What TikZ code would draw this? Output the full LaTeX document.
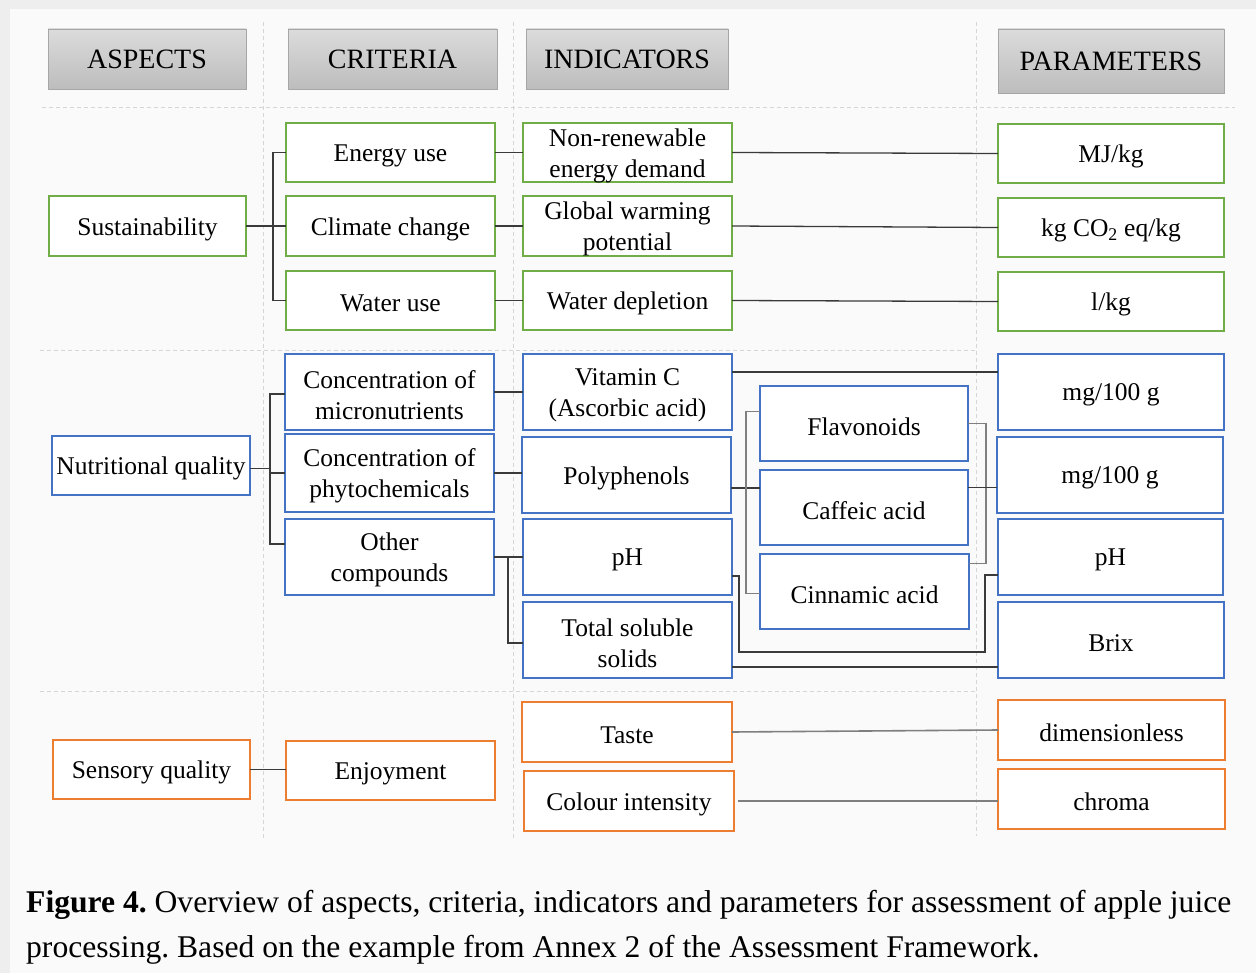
\documentclass[tikz,border=0pt]{standalone}
\usepackage{fontspec}
\setmainfont{Liberation Serif}
\frenchspacing
\definecolor{cgreen}{HTML}{70AD47}
\definecolor{cblue}{HTML}{4472C4}
\definecolor{corange}{HTML}{ED7D31}
\definecolor{cline}{HTML}{3A3A3A}
\definecolor{cgline}{HTML}{7F7F7F}
\definecolor{cguide}{HTML}{D6D6D6}
\definecolor{cbg}{HTML}{FAFAFA}
\definecolor{cframe}{HTML}{EEEEEE}
\tikzset{
  boxbase/.style={draw, line width=2pt, fill=white, inner sep=0pt, outer sep=0pt},
  boxlab/.style={align=center, inner sep=0pt, text=black, font=\fontsize{25.5}{31}\selectfont, yshift=-3pt},
  gbox/.style={boxbase, draw=cgreen},
  bbox/.style={boxbase, draw=cblue},
  obox/.style={boxbase, draw=corange},
  hbox/.style={draw=black!35, line width=0.8pt, top color=black!14, bottom color=black!26, align=center, inner sep=0pt, font=\fontsize{28}{32}\selectfont},
  conn/.style={draw=cline, line width=1.3pt},
  gconn/.style={draw=cgline, line width=1.6pt},
  guide/.style={draw=cguide, line width=0.9pt, dash pattern=on 4pt off 3pt},
  captext/.style={anchor=base west, inner sep=0pt, font=\fontsize{31.6}{45}\selectfont},
}
\newcommand\bx[7]{\node[#6, minimum width={(#4-#2)*1pt}, minimum height={(#5-#3)*1pt}, label={[boxlab]center:{#7}}] (#1) at ({(#2+#4)/2},{(#3+#5)/2}) {};}
\newcommand\hx[6]{\node[hbox, minimum width={(#4-#2)*1pt}, minimum height={(#5-#3)*1pt}] (#1) at ({(#2+#4)/2},{(#3+#5)/2}) {#6};}
\begin{document}
\begin{tikzpicture}[x=1pt,y=-1pt]
\useasboundingbox (0,0) rectangle (1256,973);
\fill[cframe] (0,0) rectangle (1256,973);
\fill[cbg] (10,9) rectangle (1256,973);
% guides
\draw[guide] (42,107) -- (1235,107);
\draw[guide] (40,350) -- (975,350);
\draw[guide] (40,691) -- (975,691);
\draw[guide] (263,22) -- (263,840);
\draw[guide] (513,22) -- (513,840);
\draw[guide] (976,22) -- (976,836);
% headers
\hx{hA}{48}{29}{246}{89}{ASPECTS}
\hx{hC}{288}{29}{497}{89}{CRITERIA}
\hx{hI}{526}{29}{728}{89}{INDICATORS}
\hx{hP}{998}{29}{1224}{93}{PARAMETERS}
% sustainability
\bx{sust}{49}{196}{246}{256}{gbox}{Sustainability}
\bx{energy}{286}{123}{495}{182}{gbox}{Energy use}
\bx{climate}{286}{196}{495}{256}{gbox}{Climate change}
\bx{water}{286}{271}{495}{330}{gbox}{Water use}
\bx{nred}{523}{123}{732}{182}{gbox}{Non-renewable\\energy demand}
\bx{gwp}{523}{196}{732}{256}{gbox}{Global warming\\potential}
\bx{wdep}{523}{271}{732}{330}{gbox}{Water depletion}
\bx{mj}{998}{124}{1224}{183}{gbox}{MJ/kg}
\bx{kgco}{998}{198}{1224}{257}{gbox}{kg CO\textsubscript{2} eq/kg}
\bx{lkg}{998}{272}{1224}{331}{gbox}{l/kg}
% nutritional
\bx{nq}{52}{436}{250}{495}{bbox}{Nutritional quality}
\bx{micro}{285}{354}{494}{430}{bbox}{Concentration of\\micronutrients}
\bx{phyto}{285}{434}{494}{512}{bbox}{Concentration of\\phytochemicals}
\bx{other}{285}{519}{494}{595}{bbox}{Other\\compounds}
\bx{vitc}{523}{354}{732}{430}{bbox}{Vitamin C\\(Ascorbic acid)}
\bx{poly}{522}{437}{731}{513}{bbox}{Polyphenols}
\bx{ph}{523}{519}{732}{595}{bbox}{pH}
\bx{tss}{523}{602}{732}{678}{bbox}{Total soluble\\solids}
\bx{flav}{760}{386}{968}{461}{bbox}{Flavonoids}
\bx{caff}{760}{470}{968}{545}{bbox}{Caffeic acid}
\bx{cinn}{760}{554}{969}{629}{bbox}{Cinnamic acid}
\bx{mga}{998}{354}{1224}{430}{bbox}{mg/100 g}
\bx{mgb}{997}{437}{1223}{513}{bbox}{mg/100 g}
\bx{php}{998}{519}{1223}{595}{bbox}{pH}
\bx{brix}{998}{602}{1224}{678}{bbox}{Brix}
% sensory
\bx{sq}{53}{740}{250}{799}{obox}{Sensory quality}
\bx{enj}{286}{741}{495}{800}{obox}{Enjoyment}
\bx{taste}{522}{702}{732}{762}{obox}{Taste}
\bx{colour}{524}{771}{734}{831}{obox}{Colour intensity}
\bx{dimless}{998}{700}{1225}{760}{obox}{dimensionless}
\bx{chroma}{998}{769}{1225}{829}{obox}{chroma}
% bus coordinates
\coordinate (sb) at (273,0);
\coordinate (nb) at (270,0);
\coordinate (ob) at (508,0);
\coordinate (pb) at (746,0);
\coordinate (rb) at (986,0);
\coordinate (lp1) at (739,652);
\coordinate (lp2) at (985,652);
% sustainability connectors
\draw[conn] (sust.east) -- (climate.west);
\draw[conn] (energy.west) -- (energy.west -| sb) -- (water.west -| sb) -- (water.west);
\draw[conn] (energy.east) -- (nred.west);
\draw[conn] (climate.east) -- (gwp.west);
\draw[conn] (water.east) -- (wdep.west);
\draw[conn] (nred.east) -- (mj.west);
\draw[conn] (gwp.east) -- (kgco.west);
\draw[conn] (wdep.east) -- (lkg.west);
% nutritional connectors
\draw[conn] ([yshift=-3pt]nq.east) -- ([yshift=-3pt]nq.east -| nb);
\draw[conn] ([yshift=-2pt]micro.west) -- ([yshift=-2pt]micro.west -| nb) -- ([yshift=13pt]other.west -| nb) -- ([yshift=13pt]other.west);
\draw[conn] (nb |- phyto.west) -- (phyto.west);
\draw[conn] (micro.east) -- (vitc.west);
\draw[conn] (phyto.east) -- (phyto.east -| poly.west);
\draw[conn] (other.east) -- (ph.west);
\draw[conn] (ob |- other.east) -- ([yshift=-3pt]tss.west -| ob) -- ([yshift=-3pt]tss.west);
\draw[conn] ([yshift=20pt]vitc.east) -- ([yshift=20pt]vitc.east -| mga.west);
\draw[conn] ([yshift=-13pt]poly.east) -- ([yshift=-13pt]poly.east -| caff.west);
\draw[gconn] ([yshift=12pt]flav.west) -- ([yshift=12pt]flav.west -| pb) -- ([yshift=-2pt]cinn.west -| pb) -- ([yshift=-2pt]cinn.west);
\draw[gconn] (flav.east) -- (flav.east -| rb) -- ([yshift=28pt]cinn.east -| rb) -- ([yshift=28pt]cinn.east);
\draw[conn] ([yshift=20pt]caff.east) -- ([yshift=20pt]caff.east -| mgb.west);
\draw[conn] ([yshift=-19pt]ph.east) -| (lp1) -- (lp2) |- ([yshift=-18pt]php.west);
\draw[conn] ([yshift=-27pt]tss.east) -- ([yshift=-27pt]tss.east -| brix.west);
% sensory connectors
\draw[conn] (sq.east) -- (sq.east -| enj.west);
\draw[gconn] (taste.east) -- (dimless.west);
\draw[gconn] ([xshift=4pt]colour.east) -- (colour.east -| chroma.west);
% caption
\node[captext] (cap1) at (26,912) {\textbf{Figure 4.} Overview of aspects, criteria, indicators and parameters for assessment of apple juice};
\node[captext] (cap2) at (26,957) {processing. Based on the example from Annex 2 of the Assessment Framework.};
\end{tikzpicture}
\end{document}
